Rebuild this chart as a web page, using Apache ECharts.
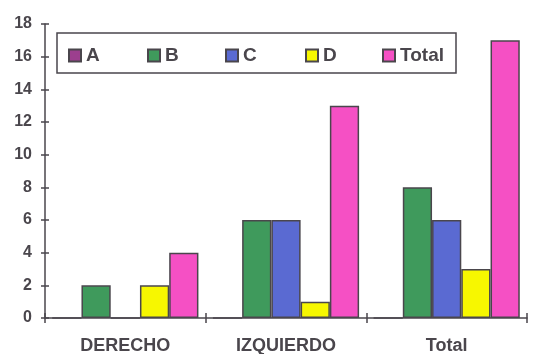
<!DOCTYPE html>
<html>
<head>
<meta charset="utf-8">
<script src="https://cdn.jsdelivr.net/npm/echarts@6/dist/echarts.min.js"></script>
<style>
html,body{margin:0;padding:0;background:#fff;}
#chart{width:544px;height:354px;}
</style>
</head>
<body>
<div id="chart"></div>
<script>
// Group labels on the x axis
const categories = ['DERECHO', 'IZQUIERDO', 'Total'];
// Values per series, one entry per group
const seriesNames = ['A', 'B', 'C', 'D', 'Total'];
const valuesA = [0, 0, 0];
const valuesB = [2, 6, 8];
const valuesC = [0, 6, 6];
const valuesD = [2, 1, 3];
const valuesTotal = [4, 13, 17];
const yTicks = [0, 2, 4, 6, 8, 10, 12, 14, 16, 18];

const colors = ['#9c3f8e', '#3f9a5c', '#5a6ad2', '#f7f700', '#f550c4'];
const allValues = [valuesA, valuesB, valuesC, valuesD, valuesTotal];
const ink = '#4a464c';
const font = '"Liberation Sans", Arial, sans-serif';
const tickStyle = { color: ink, width: 1.5 };

// Legend frame and the left edge of each legend entry
const legendBox = { x: 57, y: 33, width: 399, height: 40 };
const legendLefts = [68, 147, 225, 305, 382];

const chart = echarts.init(document.getElementById('chart'));
chart.setOption({
  animation: false,
  backgroundColor: '#fff',
  grid: { left: 45, right: 17, top: 24, bottom: 36, containLabel: false, outerBoundsMode: 'none' },
  graphic: [{
    type: 'rect', z: 0,
    shape: legendBox,
    style: { fill: '#fff', stroke: ink, lineWidth: 1.5 }
  }],
  legend: seriesNames.map((name, i) => ({
    left: legendLefts[i], top: 46,
    padding: 0,
    itemWidth: 12, itemHeight: 12,
    icon: 'rect',
    data: [name],
    textStyle: { fontFamily: font, fontWeight: 'bold', fontSize: 19, color: ink }
  })),
  xAxis: [{
    type: 'category',
    data: categories,
    axisLine: { lineStyle: tickStyle },
    axisTick: { show: true, inside: false, length: 5, lineStyle: tickStyle },
    axisLabel: { fontFamily: font, fontWeight: 'bold', fontSize: 18, color: ink, margin: 19 }
  }, {
    type: 'category', position: 'bottom',
    data: categories,
    axisLine: { show: false },
    axisTick: { show: true, inside: true, length: 5, lineStyle: tickStyle },
    axisLabel: { show: false }
  }],
  yAxis: [{
    type: 'value',
    min: yTicks[0], max: yTicks[yTicks.length - 1], interval: 2,
    splitLine: { show: false },
    axisLine: { show: true, lineStyle: tickStyle },
    axisTick: { show: true, length: 4, lineStyle: tickStyle },
    axisLabel: { fontFamily: font, fontWeight: 'bold', fontSize: 16, color: ink, margin: 13 }
  }, {
    type: 'value', position: 'left',
    min: yTicks[0], max: yTicks[yTicks.length - 1], interval: 2,
    splitLine: { show: false },
    axisLine: { show: false },
    axisTick: { show: true, inside: true, length: 4, lineStyle: tickStyle },
    axisLabel: { show: false }
  }],
  series: seriesNames.map((name, i) => ({
    name: name,
    type: 'bar',
    data: allValues[i],
    barGap: '0%',
    barCategoryGap: '9%',
    itemStyle: { color: colors[i], borderColor: ink, borderWidth: 1.5 }
  }))
});
</script>
</body>
</html>
